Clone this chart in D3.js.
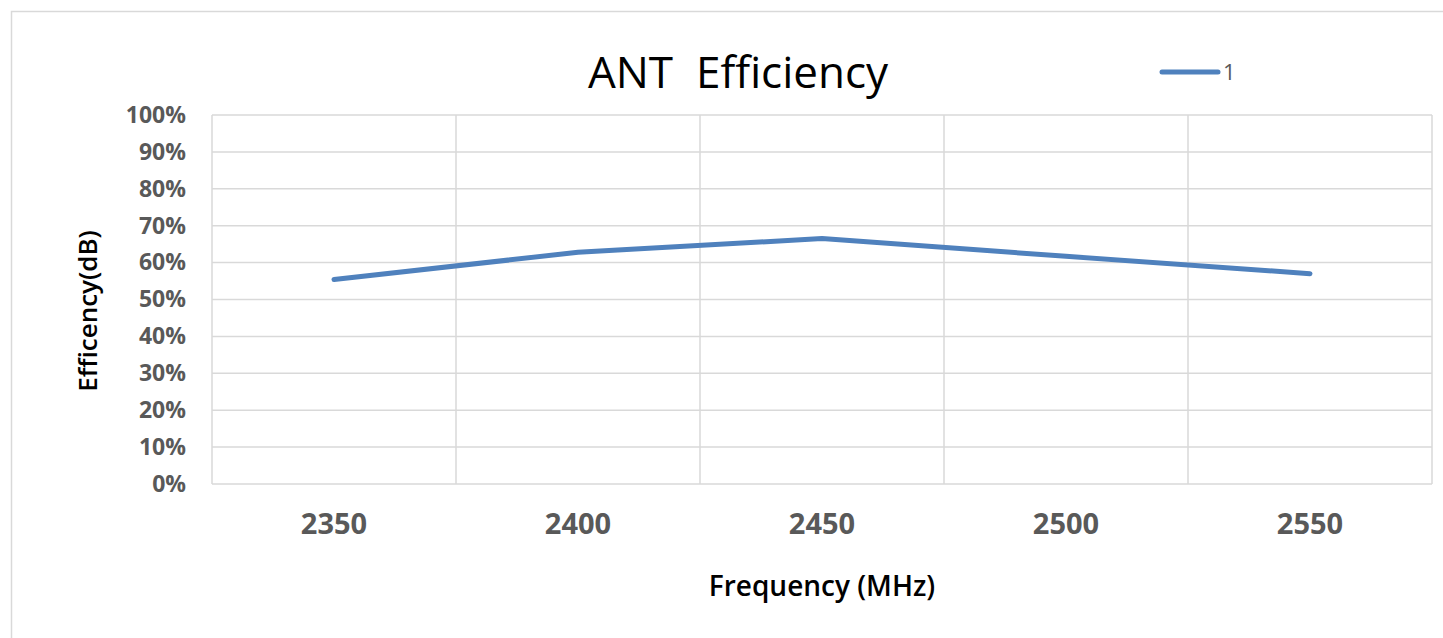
<!DOCTYPE html>
<html>
<head>
<meta charset="utf-8">
<script src="https://cdn.jsdelivr.net/npm/d3@7"></script>
<style>
  body { margin: 0; background: #fff; }
  svg { display: block; font-family: "Open Sans", "Noto Sans", sans-serif; }
</style>
</head>
<body>
<div id="graf"></div>
<script>
// data
const freqs = ["2350", "2400", "2450", "2500", "2550"]
const efficiency = [0.554, 0.628, 0.665, 0.617, 0.570]
const yTicks = [0, 0.1, 0.2, 0.3, 0.4, 0.5, 0.6, 0.7, 0.8, 0.9, 1.0]
const seriesName = "1"

const anchoTotal = 1443
const altoTotal = 638
const margins = { top: 115, right: 11, bottom: 154, left: 212 }
const ancho = anchoTotal - margins.left - margins.right
const alto = altoTotal - margins.top - margins.bottom

const svg = d3.select("#graf")
  .append("svg")
  .attr("width", anchoTotal)
  .attr("height", altoTotal)

// chart border
svg.append("rect")
  .attr("x", 11.5).attr("y", 11.5)
  .attr("width", anchoTotal).attr("height", altoTotal)
  .attr("fill", "none")
  .attr("stroke", "#d9d9d9")
  .attr("stroke-width", 1.5)

const g = svg.append("g")
  .attr("transform", `translate(${margins.left}, ${margins.top})`)

const x = d3.scaleBand().domain(freqs).range([0, ancho])
const y = d3.scaleLinear().domain([0, 1]).range([alto, 0])

// horizontal gridlines
g.selectAll(".hgrid")
  .data(yTicks)
  .enter()
  .append("line")
  .attr("x1", 0).attr("x2", ancho)
  .attr("y1", (d) => y(d)).attr("y2", (d) => y(d))
  .attr("stroke", "#d9d9d9")
  .attr("stroke-width", 1.5)

// vertical gridlines at band edges
const edges = freqs.map((d) => x(d)).concat([ancho])
g.selectAll(".vgrid")
  .data(edges)
  .enter()
  .append("line")
  .attr("x1", (d) => d).attr("x2", (d) => d)
  .attr("y1", 0).attr("y2", alto)
  .attr("stroke", "#d9d9d9")
  .attr("stroke-width", 1.5)

// y axis labels
const yAxis = d3.axisLeft(y).tickValues(yTicks).tickFormat(d3.format(".0%")).tickSize(0).tickPadding(26)
const ya = g.append("g").call(yAxis)
ya.select(".domain").remove()
ya.selectAll("text")
  .attr("fill", "#595959")
  .attr("font-size", 23)
  .attr("font-weight", 700)
  .attr("font-family", "Open Sans, Noto Sans, sans-serif")

// x axis labels
const xAxis = d3.axisBottom(x).tickSize(0).tickPadding(29)
const xa = g.append("g").attr("transform", `translate(0, ${alto})`).call(xAxis)
xa.select(".domain").remove()
xa.selectAll("text")
  .attr("fill", "#595959")
  .attr("font-size", 29)
  .attr("font-weight", 700)
  .attr("font-family", "Open Sans, Noto Sans, sans-serif")

// line
const linea = d3.line()
  .x((d, i) => x(freqs[i]) + x.bandwidth() / 2)
  .y((d) => y(d))

g.append("path")
  .datum(efficiency)
  .attr("d", linea)
  .attr("fill", "none")
  .attr("stroke", "#4f81bd")
  .attr("stroke-width", 5)
  .attr("stroke-linecap", "round")
  .attr("stroke-linejoin", "round")

// title
svg.append("text")
  .attr("x", 738).attr("y", 88)
  .attr("text-anchor", "middle")
  .attr("font-size", 44)
  .attr("font-weight", 500)
  .attr("fill", "#000")
  .attr("xml:space", "preserve")
  .text("ANT  Efficiency")

// axis titles
svg.append("text")
  .attr("x", 822).attr("y", 596)
  .attr("text-anchor", "middle")
  .attr("font-size", 28)
  .attr("font-weight", 600)
  .attr("fill", "#000")
  .text("Frequency (MHz)")

svg.append("text")
  .attr("transform", "translate(97, 311) rotate(-90)")
  .attr("text-anchor", "middle")
  .attr("font-size", 26)
  .attr("font-weight", 600)
  .attr("fill", "#000")
  .text("Efficency(dB)")

// legend
const leg = svg.append("g").attr("transform", "translate(1160, 72)")
leg.append("line")
  .attr("x1", 2).attr("x2", 58)
  .attr("y1", 0).attr("y2", 0)
  .attr("stroke", "#4f81bd")
  .attr("stroke-width", 5)
  .attr("stroke-linecap", "round")
leg.append("text")
  .attr("x", 63).attr("y", 8)
  .attr("font-size", 22)
  .attr("fill", "#595959")
  .text(seriesName)
</script>
</body>
</html>
